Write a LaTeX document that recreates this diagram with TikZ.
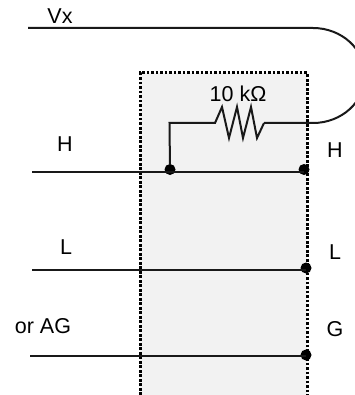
\documentclass[tikz,border=0pt]{standalone}
\usepackage{fontspec}
\setmainfont{Liberation Sans}
\usepackage{tikz}
\usetikzlibrary{positioning,arrows}

\begin{document}
\begin{tikzpicture}[
	x=1pt, y=-1pt,
	wire/.style={
		line width=2pt, black!90
	},
	term/.style={
		circle, fill=black, inner sep=0pt, minimum size=11pt
	},
	lbl/.style={
		font=\fontsize{21.5}{25}\selectfont, inner sep=0pt
	}
]
\useasboundingbox (0,0) rectangle (354,395);

% the shaded module
\fill[black!5] (140,73) rectangle (307,395);
\draw[line width=3pt, dash pattern=on 2.8pt off 1.7pt] (140,395)--(140,73)--(307,73)--(307,395);

% free ends and corners
\coordinate (vx) at (28,28);
\coordinate (loopA) at (313,28);
\coordinate (loopB) at (313,123);
\coordinate (hin) at (32,172);
\coordinate (lin) at (32,269.5);
\coordinate (gin) at (30,355.5);
\coordinate (corner) at (169.5,123);
\coordinate (resA) at (215,123);
\coordinate (resB) at (264,123);

% terminals
\node[term] (jn) at (170,169.5) {};
\node[term] (hout) at (304,169.5) {};
\node[term] (lout) at (306,268) {};
\node[term] (gout) at (306,355) {};

% wires
\draw[wire] (vx)--(loopA) arc[start angle=-90, end angle=90, x radius=52, y radius=47.5] -- (resB);
\draw[wire] (hin)--(hin-|hout);
\draw[wire] (lin)--(lin-|lout);
\draw[wire] (gin)--(gin-|gout);
\draw[wire] (jn)--(corner)--(resA)--(222,107)--(229,138)--(237,107)--(243,138)--(251,107)--(257,138)--(resB);

% labels
\node[lbl] (vxlbl) at (60,16) {Vx};
\node[lbl] (hlbl) at (65,144) {H};
\node[lbl] (llbl) at (66,247) {L};
\node[lbl] (aglbl) at (43,326) {or AG};
\node[lbl] (houtlbl) at (335,150) {H};
\node[lbl] (loutlbl) at (335,252) {L};
\node[lbl] (goutlbl) at (335,329) {G};
\node[lbl] (reslbl) at (238,94) {10 kΩ};
\end{tikzpicture}
\end{document}
